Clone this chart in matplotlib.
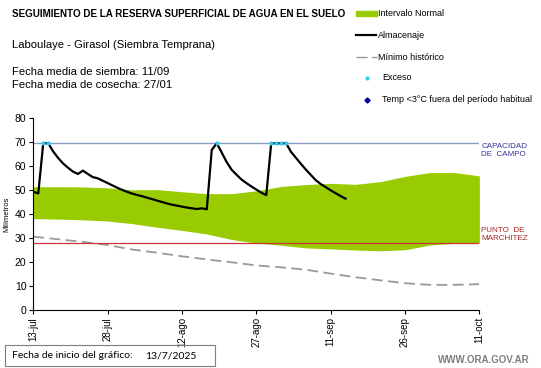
"""Seguimiento de la reserva superficial de agua - Laboulaye, girasol."""

import matplotlib

matplotlib.use("Agg")
import matplotlib.pyplot as plt
from matplotlib.lines import Line2D
from matplotlib.patches import Rectangle

plt.rcParams["font.family"] = ["Liberation Sans", "DejaVu Sans"]

# --- data (days since 13/7/2025) ---
almac_days = list(range(0, 64))
almac_vals = [
    49.4, 48.7, 69.6, 69.6, 66.2, 63.5, 61.2, 59.4, 57.8, 56.8,
    58.2, 56.8, 55.5, 55.0, 54.0, 53.0, 52.0, 51.0, 50.1, 49.3,
    48.6, 48.0, 47.5, 46.9, 46.3, 45.7, 45.1, 44.5, 44.0, 43.6,
    43.2, 42.8, 42.5, 42.2, 42.5, 42.1, 66.8, 69.6, 65.8, 61.8,
    58.6, 56.5, 54.5, 53.0, 51.6, 50.3, 49.0, 48.0, 69.6, 69.6,
    69.6, 69.6, 66.0, 63.5, 61.0, 58.6, 56.4, 54.2, 52.6, 51.3,
    50.0, 48.8, 47.6, 46.5,
]
exceso_days = [2, 3, 37, 48, 49, 50, 51]
exceso_vals = [69.6, 69.6, 69.6, 69.6, 69.6, 69.6, 69.6]

band_days = [0, 5, 10, 15, 20, 25, 30, 35, 40, 45, 50, 55, 60, 65, 70, 75, 80, 85, 90]
band_upper = [51.5, 51.5, 51.4, 51.0, 50.2, 50.3, 49.4, 48.6, 48.6, 49.8,
              51.6, 52.4, 52.9, 52.5, 53.6, 55.8, 57.4, 57.4, 56.0]
band_lower = [38.2, 38.0, 37.7, 37.2, 36.1, 34.6, 33.3, 31.8, 29.5, 28.0,
              27.1, 26.0, 25.6, 25.1, 24.8, 25.2, 27.2, 27.9, 27.9]
minimo_vals = [30.7, 29.6, 28.5, 27.2, 25.3, 24.0, 22.5, 21.2, 20.0, 18.7,
               17.9, 16.9, 15.3, 13.8, 12.5, 11.3, 10.6, 10.6, 10.9]

capacidad = 69.6
marchitez = 28.0

tick_days = [0, 15, 30, 45, 60, 75, 90]
tick_labels = ["13-jul", "28-jul", "12-ago", "27-ago", "11-sep", "26-sep", "11-oct"]
y_ticks = [0, 10, 20, 30, 40, 50, 60, 70, 80]

GREEN = "#99cc00"

fig = plt.figure(figsize=(5.41, 3.68), dpi=100)
ax = fig.add_axes([0.0616, 0.1568, 0.8245, 0.5217])

ax.fill_between(band_days, band_lower, band_upper, color=GREEN, lw=0, zorder=1)
ax.plot(band_days, minimo_vals, color="#999999", lw=1.3, dashes=(6, 3), zorder=2)
ax.axhline(capacidad, color="#8e9cc8", lw=1.0, zorder=2)
ax.axhline(marchitez, color="#cc3333", lw=0.9, zorder=2)
ax.plot(almac_days, almac_vals, color="black", lw=1.6, zorder=3)
ax.plot(exceso_days, exceso_vals, ls="none", marker="o", ms=2.0,
        color="#33ccee", mec="#33ccee", zorder=4)

ax.set_xlim(0, 90)
ax.set_ylim(0, 80)
ax.set_xticks(tick_days)
ax.set_xticklabels(tick_labels, rotation=90, fontsize=7)
ax.set_yticks(y_ticks)
ax.tick_params(axis="y", labelsize=7.5, length=3, width=0.8, pad=2)
ax.tick_params(axis="x", length=3, width=0.8, pad=2)
for side in ("top", "right"):
    ax.spines[side].set_visible(False)
for side in ("left", "bottom"):
    ax.spines[side].set_linewidth(0.8)
ax.set_ylabel("Milímetros", fontsize=5.5, labelpad=3)

ax.text(90.4, capacidad, "CAPACIDAD\nDE  CAMPO", color="#333399", fontsize=5.8,
        va="top", ha="left", linespacing=1.1)
ax.text(90.4, marchitez + 0.5, "PUNTO  DE\nMARCHITEZ", color="#aa2222",
        fontsize=5.8, va="bottom", ha="left", linespacing=1.1)

# header texts
W, H = 541, 368


def fx(px):
    return px / W


def fy(py):
    return 1 - py / H


fig.text(fx(12), fy(14), "SEGUIMIENTO DE LA RESERVA SUPERFICIAL DE AGUA EN EL SUELO",
         fontsize=7.1, fontweight="bold", va="center")
fig.text(fx(12), fy(45), "Laboulaye - Girasol (Siembra Temprana)", fontsize=8.1,
         va="center")
fig.text(fx(12), fy(72), "Fecha media de siembra: 11/09", fontsize=8.1, va="center")
fig.text(fx(12), fy(85), "Fecha media de cosecha: 27/01", fontsize=8.1, va="center")

# legend (drawn by hand, as in the original layout)
fig.patches.append(Rectangle((fx(356), fy(15.5)), fx(21), 4.5 / H, color=GREEN,
                             transform=fig.transFigure, figure=fig))
fig.lines.append(Line2D([fx(356), fx(376)], [fy(35), fy(35)], color="black", lw=1.6,
                        transform=fig.transFigure, figure=fig))
fig.lines.append(Line2D([fx(356), fx(377)], [fy(57), fy(57)], color="#999999", lw=1.0,
                        dashes=(8, 3), transform=fig.transFigure, figure=fig))
fig.lines.append(Line2D([fx(367)], [fy(78)], ls="none", marker="o", ms=2,
                        color="#33ccee", transform=fig.transFigure, figure=fig))
fig.lines.append(Line2D([fx(367)], [fy(100)], ls="none", marker="D", ms=2.6,
                        color="#000099", transform=fig.transFigure, figure=fig))
leg_items = [(13, "Intervalo Normal"), (35, "Almacenaje"), (57, "Mínimo histórico"),
             (78, "Exceso"), (100, "Temp <3°C fuera del período habitual")]
for py, label in leg_items:
    x0 = 378 if py < 70 else 382
    fig.text(fx(x0), fy(py), label, fontsize=6.5, va="center")

# bottom info
fig.patches.append(Rectangle((fx(5), fy(366)), fx(210), 21 / H, fill=False,
                             ec="#7f7f7f", lw=0.8, transform=fig.transFigure,
                             figure=fig))
fig.text(fx(12), fy(356), "Fecha de inicio del gráfico:", fontsize=7.5,
         family=["Lato", "DejaVu Sans"], va="center")
fig.text(fx(145), fy(356), "13/7/2025", fontsize=7.5, family=["Lato", "DejaVu Sans"],
         va="center")
fig.text(fx(530), fy(360), "WWW.ORA.GOV.AR", fontsize=7, fontweight="bold",
         color="#7f7f7f", ha="right", va="center")

fig.savefig("out.png", dpi=100)
